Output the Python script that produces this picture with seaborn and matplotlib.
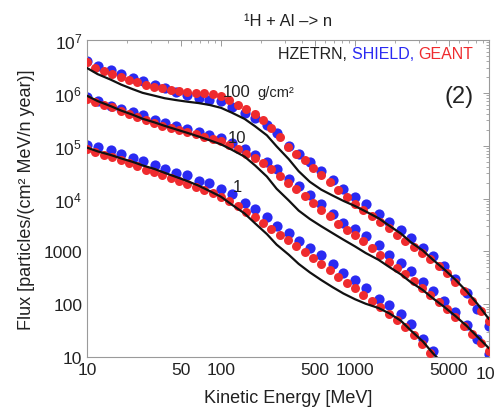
import numpy as np
import pandas as pd
import matplotlib
matplotlib.use("Agg")
import matplotlib.pyplot as plt
import seaborn as sns
from matplotlib.ticker import FixedLocator, FixedFormatter, LogLocator, NullFormatter
from matplotlib.offsetbox import TextArea, HPacker, AnchoredOffsetbox

# ---------------- data ----------------
# energy grid of the HZETRN curves and the SHIELD points
energy = [10, 12, 15, 18, 22, 26, 32, 38, 46, 56, 68, 82, 100, 120, 150, 180,
          220, 260, 320, 380, 460, 560, 680, 820, 1000, 1200, 1500, 1800, 2200,
          2600, 3200, 3800, 4600, 5600, 6800, 8200, 10000]
# energy grid of the (denser) GEANT points
geant_energy = [10, 11.5, 13.3, 15.4, 17.8, 20.5, 23.7, 27.4, 31.6, 36.5, 42.2, 48.7,
                56.2, 64.9, 75, 86.6, 100, 115, 133, 154, 178, 205, 237, 274, 316,
                365, 422, 487, 562, 649, 750, 866, 1000, 1150, 1330, 1540, 1780,
                2050, 2370, 2740, 3160, 3650, 4220, 4870, 5620, 6490, 7500, 8660, 10000]

# 100 g/cm^2
hzetrn_100 = [2.95e6, 2.26e6, 1.78e6, 1.43e6, 1.17e6, 1.0e6, 8.8e5, 7.9e5, 7.3e5, 6.8e5,
              6.4e5, 5.9e5, 5.2e5, 4.23e5, 3.21e5, 2.32e5, 1.57e5, 9.7e4, 5.57e4, 3.28e4,
              2.07e4, 1.47e4, 1.14e4, 9.0e3, 7.2e3, 5.7e3, 4.23e3, 3.06e3, 2.17e3, 1.50e3,
              1.04e3, 700, 464, 292, 176, 101, 52]
shield_100 = [4.0e6, 3.2e6, 2.7e6, 2.27e6, 1.91e6, 1.67e6, 1.40e6, 1.23e6, 1.04e6, 9.2e5,
              8.0e5, 7.4e5, 7.05e5, 5.4e5, 4.2e5, 3.36e5, 2.48e5, 1.75e5, 1.0e5, 7.05e4,
              5.0e4, 3.36e4, 2.27e4, 1.53e4, 1.08e4, 7.7e3, 5.2e3, 3.67e3, 2.48e3, 1.82e3,
              1.18e3, 800, 520, 295, 160, 80, 38]
geant_100 = [3.80e6, 2.99e6, 2.55e6, 2.25e6, 2.02e6, 1.78e6, 1.58e6, 1.42e6, 1.30e6, 1.21e6,
             1.15e6, 1.10e6, 1.04e6, 1.01e6, 9.8e5, 9.4e5, 8.8e5, 7.2e5, 6.0e5, 5.0e5,
             3.9e5, 3.1e5, 2.2e5, 1.44e5, 9.5e4, 7.05e4, 5.25e4, 3.85e4, 2.77e4, 2.01e4,
             1.48e4, 1.09e4, 8.0e3, 6.1e3, 4.7e3, 3.6e3, 2.76e3, 2.08e3, 1.58e3, 1.22e3,
             940, 705, 525, 382, 266, 175, 114, 74, 48]

# 10 g/cm^2
hzetrn_10 = [8.8e5, 6.98e5, 5.61e5, 4.61e5, 3.84e5, 3.23e5, 2.75e5, 2.37e5, 2.04e5, 1.75e5,
             1.49e5, 1.27e5, 1.06e5, 8.4e4, 6.2e4, 4.2e4, 2.6e4, 1.53e4, 9.2e3, 5.9e3,
             4.1e3, 2.98e3, 2.21e3, 1.66e3, 1.24e3, 931, 690, 506, 366, 262,
             186, 130, 90, 60, 38.8, 24.2, 14.6]
shield_10 = [8.4e5, 7.05e5, 5.7e5, 5.0e5, 4.37e5, 3.83e5, 3.08e5, 2.7e5, 2.37e5, 2.08e5,
             1.82e5, 1.60e5, 1.40e5, 1.13e5, 8.8e4, 6.75e4, 5.0e4, 3.67e4, 2.37e4, 1.75e4,
             1.18e4, 7.7e3, 5.2e3, 3.5e3, 2.6e3, 1.91e3, 1.29e3, 840, 590, 418,
             259, 175, 113, 70, 40, 21.7, 11.3]
geant_10 = [7.7e5, 6.7e5, 5.9e5, 5.3e5, 4.6e5, 4.06e5, 3.54e5, 3.08e5, 2.72e5, 2.36e5,
            2.16e5, 2.0e5, 1.82e5, 1.65e5, 1.49e5, 1.35e5, 1.23e5, 1.04e5, 8.7e4, 7.1e4,
            5.8e4, 4.65e4, 3.57e4, 2.65e4, 1.96e4, 1.50e4, 1.11e4, 8.2e3, 6.1e3, 4.58e3,
            3.32e3, 2.48e3, 2.0e3, 1.57e3, 1.17e3, 871, 636, 492, 373, 277,
            204, 147, 109, 80, 56, 39, 27.2, 18.8, 12.9]

# 1 g/cm^2
hzetrn_1 = [9.2e4, 7.8e4, 6.67e4, 5.73e4, 4.92e4, 4.23e4, 3.61e4, 3.06e4, 2.57e4, 2.14e4,
            1.75e4, 1.39e4, 1.08e4, 7.7e3, 5.2e3, 3.37e3, 2.12e3, 1.34e3, 865, 578,
            400, 286, 210, 159, 124, 102, 84.5, 67.1, 48.6, 32.1, 19.8, 11.9, 7.2]
shield_1 = [1.04e5, 9.6e4, 8.4e4, 7.05e4, 5.9e4, 5.2e4, 4.37e4, 3.67e4, 3.08e4, 2.82e4,
            2.17e4, 1.99e4, 1.53e4, 1.23e4, 8.4e3, 6.2e3, 4.37e3, 3.08e3, 2.27e3, 1.60e3,
            1.18e3, 840, 567, 383, 282, 199, 123, 96, 65, 42, 21.7, 12.9]
geant_1 = [8.8e4, 7.67e4, 6.8e4, 6.04e4, 5.26e4, 4.63e4, 4.04e4, 3.52e4, 3.11e4, 2.78e4,
           2.45e4, 2.16e4, 1.90e4, 1.67e4, 1.46e4, 1.26e4, 1.08e4, 8.85e3, 7.1e3, 5.65e3,
           4.46e3, 3.47e3, 2.69e3, 2.08e3, 1.63e3, 1.26e3, 980, 759, 585, 439,
           333, 256, 199, 151, 115, 88, 66.5, 50.2, 36.7, 25.9, 18.0, 12.1]

xtick_values = [10, 50, 100, 500, 1000, 5000, 10000]
xtick_labels = ["10", "50", "100", "500", "1000", "5000", r"$\mathregular{10^4}$"]
ytick_values = [10, 100, 1000, 1e4, 1e5, 1e6, 1e7]
ytick_labels = ["10", "100", "1000", r"$\mathregular{10^4}$", r"$\mathregular{10^5}$",
                r"$\mathregular{10^6}$", r"$\mathregular{10^7}$"]

# ---------------- tables ----------------
def frame(code, depth, xs, vals):
    return pd.DataFrame({"energy": xs[:len(vals)], "flux": vals,
                         "code": code, "depth": depth})

shield = pd.concat([frame("SHIELD", 100, energy, shield_100),
                    frame("SHIELD", 10, energy, shield_10),
                    frame("SHIELD", 1, energy, shield_1)], ignore_index=True)
geant = pd.concat([frame("GEANT", 100, geant_energy, geant_100),
                   frame("GEANT", 10, geant_energy, geant_10),
                   frame("GEANT", 1, geant_energy, geant_1)], ignore_index=True)
hzetrn = pd.concat([frame("HZETRN", 100, energy, hzetrn_100),
                    frame("HZETRN", 10, energy, hzetrn_10),
                    frame("HZETRN", 1, energy, hzetrn_1)], ignore_index=True)

# ---------------- style ----------------
sns.set_style("white")
plt.rcParams['font.family'] = ['Liberation Sans', 'DejaVu Sans']
plt.rcParams['mathtext.fontset'] = 'custom'
plt.rcParams['mathtext.rm'] = 'Liberation Sans'
plt.rcParams['mathtext.it'] = 'Liberation Sans:italic'
plt.rcParams['mathtext.bf'] = 'Liberation Sans:bold'

BLUE = '#2a2af2'
RED = '#ef2b2e'
TXT = '#222222'

fig = plt.figure(figsize=(4.95, 4.10), dpi=100)
ax = fig.add_axes([87 / 495, 1 - 358 / 410, 402 / 495, 317 / 410])
ax.set_xscale('log')
ax.set_yscale('log')

sns.scatterplot(data=shield, x="energy", y="flux", color=BLUE, s=54, linewidth=0,
                ax=ax, zorder=2, legend=False)
sns.scatterplot(data=geant, x="energy", y="flux", color=RED, s=42, linewidth=0,
                ax=ax, zorder=3, legend=False)
sns.lineplot(data=hzetrn, x="energy", y="flux", units="depth", estimator=None,
             color='#111111', linewidth=1.6, ax=ax, zorder=4, legend=False)

ax.set_xlim(10, 1e4)
ax.set_ylim(10, 1e7)

ax.xaxis.set_major_locator(FixedLocator(xtick_values))
ax.xaxis.set_major_formatter(FixedFormatter(xtick_labels))
ax.yaxis.set_major_locator(FixedLocator(ytick_values))
ax.yaxis.set_major_formatter(FixedFormatter(ytick_labels))
ax.xaxis.set_minor_locator(LogLocator(base=10, subs=np.arange(2, 10)))
ax.yaxis.set_minor_locator(LogLocator(base=10, subs=np.arange(2, 10), numticks=20))
ax.xaxis.set_minor_formatter(NullFormatter())
ax.yaxis.set_minor_formatter(NullFormatter())

ax.tick_params(which='both', direction='in', top=True, right=True,
               color='#9a9a9a', labelcolor=TXT, labelsize=12.5, pad=3.5)
ax.tick_params(which='major', length=4, width=0.7)
ax.tick_params(which='minor', length=2.2, width=0.6)
for sp in ax.spines.values():
    sp.set_color('#9a9a9a')
    sp.set_linewidth(0.8)

ax.set_xlabel("Kinetic Energy [MeV]", fontsize=13, color=TXT, labelpad=5)
ax.set_ylabel("Flux [particles/(cm² MeV/n year)]", fontsize=13, color=TXT, labelpad=6)
ax.set_title("¹H + Al –> n", fontsize=12, color=TXT, pad=11)

# annotations
parts = [TextArea("HZETRN, ", textprops=dict(color=TXT, size=11.5)),
         TextArea("SHIELD, ", textprops=dict(color=BLUE, size=11.5)),
         TextArea("GEANT", textprops=dict(color=RED, size=11.5))]
box = HPacker(children=parts, align="baseline", pad=0, sep=0)
anch = AnchoredOffsetbox(loc='upper right', child=box, pad=0, borderpad=0, frameon=False,
                         bbox_to_anchor=(473 / 495, 1 - 47 / 410),
                         bbox_transform=fig.transFigure)
ax.add_artist(anch)

ax.text(0.925, 0.823, "(2)", fontsize=17, ha='center', va='center',
        color=TXT, transform=ax.transAxes)
ax.text(0.373, 0.823, "100", fontsize=12, ha='center', va='baseline',
        color=TXT, transform=ax.transAxes)
ax.text(0.423, 0.823, "g/cm²", fontsize=10.5, ha='left', va='baseline',
        color=TXT, transform=ax.transAxes)
ax.text(0.373, 0.678, "10", fontsize=12, ha='center', va='baseline',
        color=TXT, transform=ax.transAxes)
ax.text(0.375, 0.524, "1", fontsize=12, ha='center', va='baseline',
        color=TXT, transform=ax.transAxes)

fig.savefig("out.png", dpi=100)
